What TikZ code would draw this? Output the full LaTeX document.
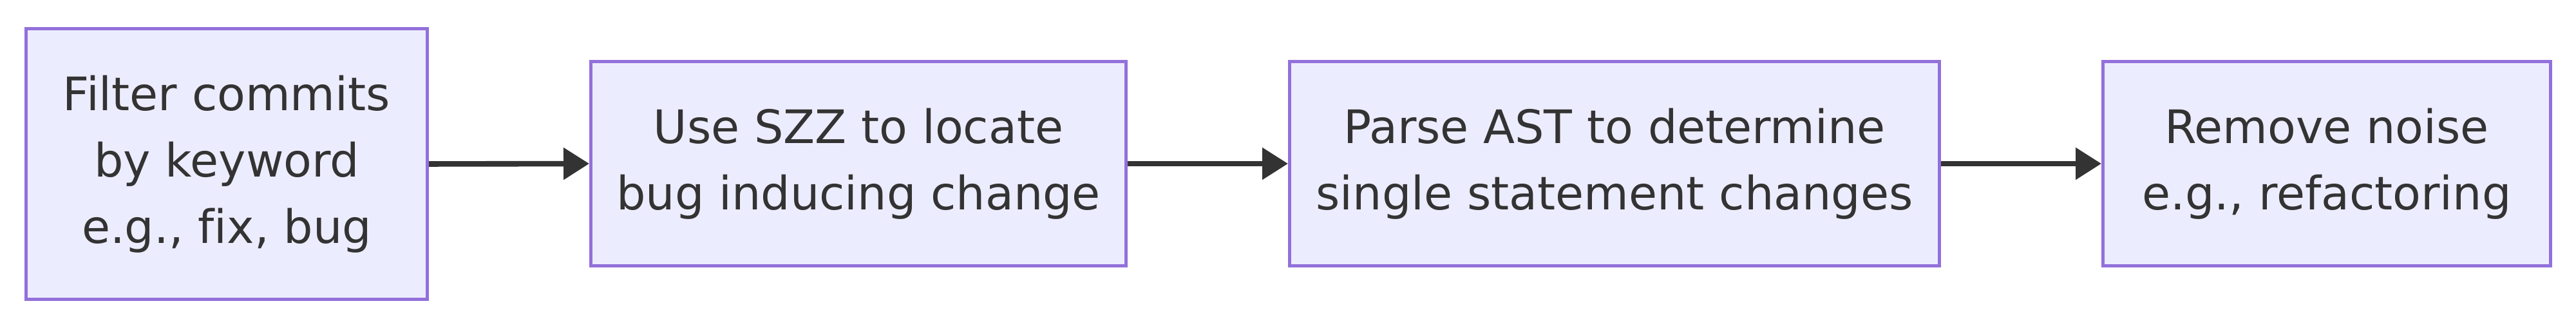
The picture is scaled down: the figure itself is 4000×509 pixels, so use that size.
\documentclass[tikz,border=0pt]{standalone}
\usepackage{fontspec}
\setmainfont[Ligatures=NoCommon]{DejaVu Sans}
\usetikzlibrary{arrows.meta}
\definecolor{boxfill}{HTML}{ECECFF}
\definecolor{boxline}{HTML}{9370DB}
\definecolor{ink}{HTML}{333333}
\tikzset{
  stepbox/.style={draw=boxline, fill=boxfill, line width=1.25pt, text=ink,
    align=center, inner sep=0pt, font=\fontsize{17.9pt}{25.75pt}\selectfont},
  flow/.style={draw=ink, line width=2.15pt, -{Triangle[length=10pt,width=12pt]}}
}
\begin{document}
\begin{tikzpicture}[x=0.25pt,y=0.25pt]
\useasboundingbox (0,0) rectangle (4000,509);
\node[stepbox, minimum width=155.75pt, minimum height=105pt] (a) at (352,254.5)
  {Filter commits\\by keyword\\e.g., fix, bug};
\node[stepbox, minimum width=207.75pt, minimum height=79.25pt] (b) at (1333,255)
  {Use SZZ to locate\\bug inducing change};
\node[stepbox, minimum width=252.25pt, minimum height=79.25pt] (c) at (2507,255)
  {Parse AST to determine\\single statement changes};
\node[stepbox, minimum width=173.75pt, minimum height=79.25pt] (d) at (3613,255)
  {Remove noise\\e.g., refactoring};
\draw[flow] (a.east) -- (b.west);
\draw[flow] (b.east) -- (c.west);
\draw[flow] (c.east) -- (d.west);
\end{tikzpicture}
\end{document}
